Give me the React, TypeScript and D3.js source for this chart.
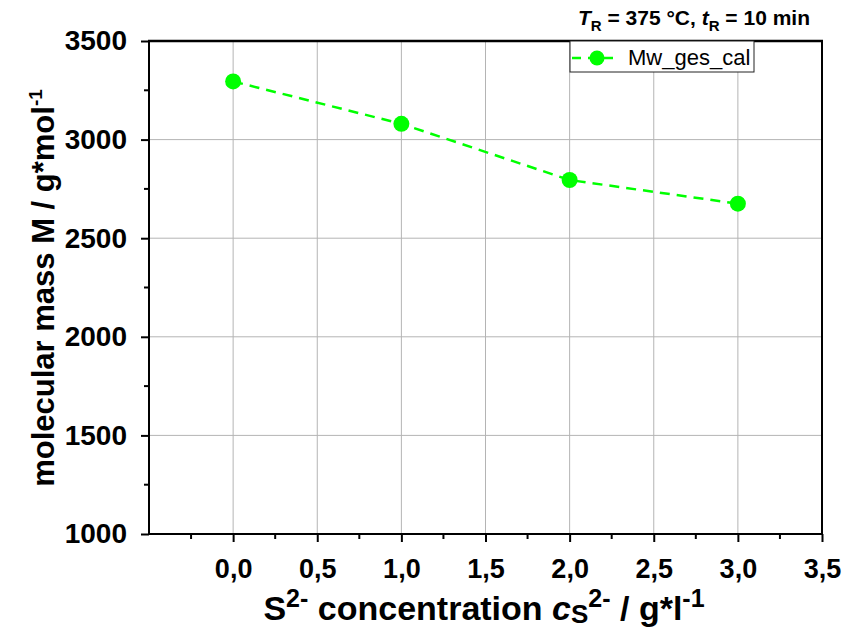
import React, { useEffect, useRef } from 'react'
import * as d3 from 'd3'

const concentrations = [0, 1, 2, 3]
const molMass = [3295, 3080, 2795, 2675]
const xTicks = [0, 0.5, 1, 1.5, 2, 2.5, 3, 3.5]
const yTicks = [1000, 1500, 2000, 2500, 3000, 3500]
const seriesName = 'Mw_ges_cal'
const green = '#00ff00'

export default function App() {
  const svgRef = useRef<SVGGElement>(null)

  useEffect(() => {
    const svg = d3.select(svgRef.current)
    svg.selectAll('*').remove()

    const left = 149
    const right = 822
    const top = 41
    const bottom = 534

    const x = d3.scaleLinear().domain([-0.5, 3.5]).range([left, right])
    const y = d3.scaleLinear().domain([1000, 3500]).range([bottom, top])

    const g = svg.append('g')

    // grid
    g.selectAll('line.gx')
      .data(xTicks.filter((t) => t < 3.5))
      .join('line')
      .attr('x1', (d) => x(d))
      .attr('x2', (d) => x(d))
      .attr('y1', top)
      .attr('y2', bottom)
      .attr('stroke', '#b4b4b4')
      .attr('stroke-width', 1)
    g.selectAll('line.gy')
      .data(yTicks.filter((t) => t > 1000 && t < 3500))
      .join('line')
      .attr('x1', left)
      .attr('x2', right)
      .attr('y1', (d) => y(d))
      .attr('y2', (d) => y(d))
      .attr('stroke', '#b4b4b4')
      .attr('stroke-width', 1)

    // x axis
    const xAxis = d3
      .axisBottom(x)
      .tickValues(xTicks)
      .tickFormat((d) => d3.format('.1f')(d as number).replace('.', ','))
      .tickSize(8)
      .tickPadding(17)
    const xa = g.append('g').attr('transform', `translate(0,${bottom})`).call(xAxis)
    xa.select('.domain').remove()
    xa.selectAll('.tick line').attr('stroke', '#000').attr('stroke-width', 2)
    xa.selectAll('.tick text')
      .attr('font-family', '"Liberation Sans", Arial, sans-serif')
      .attr('font-weight', 'bold')
      .attr('font-size', 27)
      .attr('fill', '#000')
    g.append('g')
      .selectAll('line')
      .data(d3.range(-0.25, 3.5, 0.5))
      .join('line')
      .attr('x1', (d) => x(d))
      .attr('x2', (d) => x(d))
      .attr('y1', bottom)
      .attr('y2', bottom + 5)
      .attr('stroke', '#000')
      .attr('stroke-width', 2)

    // y axis
    const yAxis = d3
      .axisLeft(y)
      .tickValues(yTicks)
      .tickFormat((d) => String(d))
      .tickSize(8)
      .tickPadding(14)
    const ya = g.append('g').attr('transform', `translate(${left},0)`).call(yAxis)
    ya.select('.domain').remove()
    ya.selectAll('.tick line').attr('stroke', '#000').attr('stroke-width', 2)
    ya.selectAll('.tick text')
      .attr('font-family', '"Liberation Sans", Arial, sans-serif')
      .attr('font-weight', 'bold')
      .attr('font-size', 28)
      .attr('fill', '#000')
    g.append('g')
      .selectAll('line')
      .data(d3.range(1250, 3500, 500))
      .join('line')
      .attr('x1', left)
      .attr('x2', left - 5)
      .attr('y1', (d) => y(d))
      .attr('y2', (d) => y(d))
      .attr('stroke', '#000')
      .attr('stroke-width', 2)

    // frame
    g.append('line').attr('x1', left).attr('x2', left).attr('y1', top - 1).attr('y2', bottom + 1)
      .attr('stroke', '#000').attr('stroke-width', 2)
    g.append('line').attr('x1', left - 1).attr('x2', right + 1).attr('y1', bottom).attr('y2', bottom)
      .attr('stroke', '#000').attr('stroke-width', 2)
    g.append('line').attr('x1', left - 1).attr('x2', right + 1).attr('y1', top).attr('y2', top)
      .attr('stroke', '#000').attr('stroke-width', 2.5)
    g.append('line').attr('x1', right).attr('x2', right).attr('y1', top).attr('y2', bottom)
      .attr('stroke', '#000').attr('stroke-width', 2)

    // series
    const pts = concentrations.map((c, i) => [c, molMass[i]] as [number, number])
    const line = d3
      .line<[number, number]>()
      .x((d) => x(d[0]))
      .y((d) => y(d[1]))
    g.append('path')
      .attr('d', line(pts))
      .attr('fill', 'none')
      .attr('stroke', green)
      .attr('stroke-width', 2.5)
      .attr('stroke-dasharray', '10,7')
    g.selectAll('circle.pt')
      .data(pts)
      .join('circle')
      .attr('cx', (d) => x(d[0]))
      .attr('cy', (d) => y(d[1]))
      .attr('r', 8)
      .attr('fill', green)

    // legend
    const lg = g.append('g')
    lg.append('rect').attr('x', 570).attr('y', top).attr('width', 184).attr('height', 31)
      .attr('fill', '#fff').attr('stroke', '#222').attr('stroke-width', 1)
    lg.append('line').attr('x1', 572).attr('x2', 620).attr('y1', 58).attr('y2', 58)
      .attr('stroke', green).attr('stroke-width', 2.5).attr('stroke-dasharray', '9,7')
    lg.append('circle').attr('cx', 597).attr('cy', 58).attr('r', 7.5).attr('fill', green)
    lg.append('text').attr('x', 628).attr('y', 65).text(seriesName)
      .attr('font-family', '"Liberation Sans", Arial, sans-serif').attr('font-size', 22)
  }, [])

  const bold = { fontFamily: '"Liberation Sans", Arial, sans-serif', fontWeight: 'bold' as const }

  return (
    <svg width={865} height={632} style={{ position: 'absolute', left: 0, top: 0, background: '#fff' }}>
      <g ref={svgRef} />
      <text x={810} y={25} textAnchor="end" fontSize={21} style={bold}>
        <tspan fontStyle="italic">T</tspan>
        <tspan fontSize={15} dy={6}>R</tspan>
        <tspan dy={-6}> = 375 °C, </tspan>
        <tspan fontStyle="italic">t</tspan>
        <tspan fontSize={15} dy={6}>R</tspan>
        <tspan dy={-6}> = 10 min</tspan>
      </text>
      <text transform="translate(54,288) rotate(-90)" textAnchor="middle" fontSize={31} style={bold}>
        molecular mass M / g*mol
        <tspan fontSize={19} dy={-12}>-1</tspan>
      </text>
      <text x={484} y={620} textAnchor="middle" fontSize={34} style={bold}>
        S<tspan fontSize={25} dy={-13}>2-</tspan>
        <tspan dy={13}> concentration </tspan>
        <tspan fontStyle="italic">c</tspan>
        <tspan fontSize={26} dy={3}>S</tspan>
        <tspan fontSize={25} dy={-16}>2-</tspan>
        <tspan dy={13}> / g*l</tspan>
        <tspan fontSize={25} dy={-13}>-1</tspan>
      </text>
    </svg>
  )
}
